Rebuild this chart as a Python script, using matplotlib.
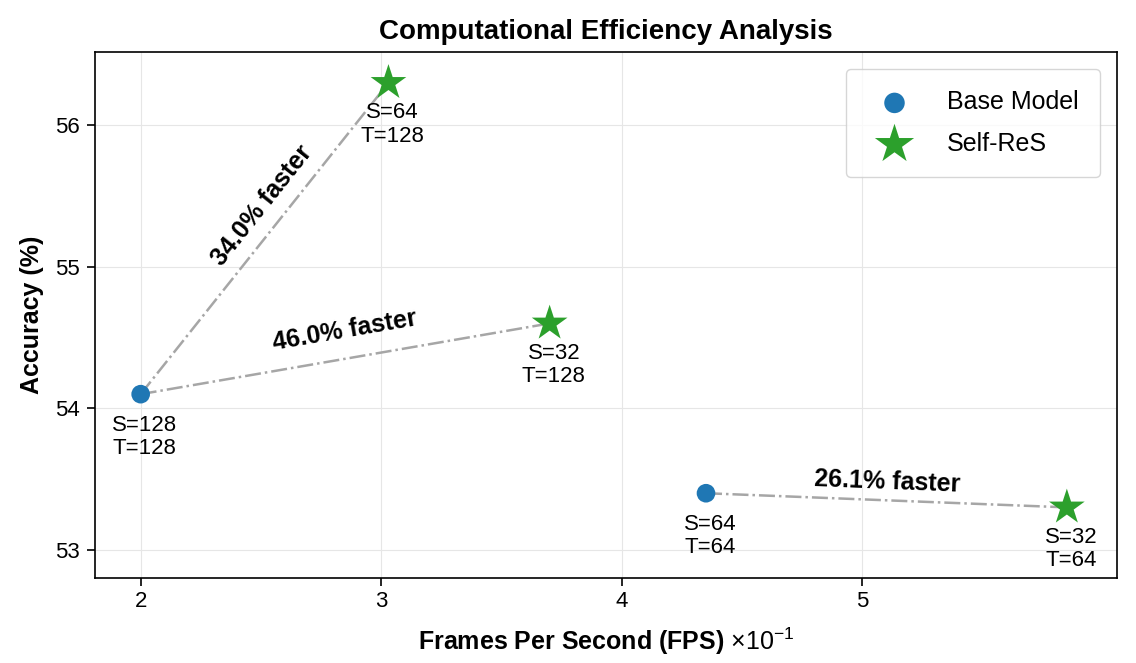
import numpy as np
import matplotlib
matplotlib.use("Agg")
import matplotlib.pyplot as plt

# Data (FPS in units of 1e-1)
base_fps = [2.00, 4.35]
base_acc = [54.1, 53.4]
base_labels = ["S=128\nT=128", "S=64\nT=64"]

selfres_fps = [3.03, 3.70, 5.85]
selfres_acc = [56.3, 54.6, 53.3]
selfres_labels = ["S=64\nT=128", "S=32\nT=128", "S=32\nT=64"]

# connections: (base index, self-res index, speedup text)
pairs = [(0, 0, "34.0% faster"), (0, 1, "46.0% faster"), (1, 2, "26.1% faster")]
# text offsets from line midpoint, in pixels (layout only)
text_offsets = [(-3, 33), (0, 28), (1, 18)]

xticks = [2, 3, 4, 5]
yticks = [53, 54, 55, 56]

plt.rcParams['font.family'] = ['Liberation Sans', 'DejaVu Sans']
plt.rcParams['mathtext.fontset'] = 'custom'
plt.rcParams['mathtext.rm'] = 'Liberation Sans'
plt.rcParams['mathtext.it'] = 'Liberation Sans:italic'
plt.rcParams['mathtext.bf'] = 'Liberation Sans:bold'

fig = plt.figure(figsize=(11.36, 6.63), dpi=100)
ax = fig.add_axes([0.0836, 0.128, 0.9, 0.794])

ax.set_xlim(1.81, 6.06)
ax.set_ylim(52.80, 56.52)
ax.set_xticks(xticks)
ax.set_yticks(yticks)
ax.grid(True, color='#e6e6e6', linewidth=0.8)
ax.set_axisbelow(True)
for s in ax.spines.values():
    s.set_linewidth(1.2)
ax.tick_params(labelsize=16, width=1.2, length=6)
ax.tick_params(axis='x', pad=3)
ax.tick_params(axis='y', pad=5)

for bi, si, txt in pairs:
    ax.plot([base_fps[bi], selfres_fps[si]], [base_acc[bi], selfres_acc[si]],
            linestyle='-.', color='#a6a6a6', linewidth=1.8, zorder=2)

ax.scatter(base_fps, base_acc, s=180, color='#1f77b4', marker='o', zorder=3,
           label='Base Model', edgecolors='none')
ax.scatter(selfres_fps, selfres_acc, s=730, color='#2ca02c', marker='*', zorder=3,
           label='Self-ReS', edgecolors='none')

for x, y, lab in zip(base_fps, base_acc, base_labels):
    ax.annotate(lab, (x, y), xytext=(3, -15), textcoords='offset points',
                ha='center', va='top', fontsize=16, linespacing=1.15)
for x, y, lab in zip(selfres_fps, selfres_acc, selfres_labels):
    ax.annotate(lab, (x, y), xytext=(3, -14), textcoords='offset points',
                ha='center', va='top', fontsize=16, linespacing=1.15)

fig.canvas.draw()
for (bi, si, txt), (ox, oy) in zip(pairs, text_offsets):
    x0, y0 = base_fps[bi], base_acc[bi]
    x1, y1 = selfres_fps[si], selfres_acc[si]
    p0 = ax.transData.transform((x0, y0))
    p1 = ax.transData.transform((x1, y1))
    ang = np.degrees(np.arctan2(p1[1] - p0[1], p1[0] - p0[0]))
    mx, my = (x0 + x1) / 2, (y0 + y1) / 2
    ax.annotate(txt, (mx, my), xytext=(ox, oy), textcoords='offset pixels',
                ha='center', va='center', rotation=ang, rotation_mode='anchor',
                fontsize=18, fontweight='bold')

ax.set_title("Computational Efficiency Analysis", fontsize=20, fontweight='bold', pad=9)
ax.set_ylabel("Accuracy (%)", fontsize=18, fontweight='bold', labelpad=8)
ax.set_xlabel(r"Frames Per Second (FPS) $\times10^{-1}$", fontsize=18,
              fontweight='bold', labelpad=10)

leg = ax.legend(loc='upper right', fontsize=18, frameon=True, borderpad=0.85,
                labelspacing=0.7, handletextpad=1.0, borderaxespad=0.7,
                fancybox=True, edgecolor='#cccccc', markerscale=1.1,
                handlelength=2.2)

fig.savefig("out.png", dpi=100)
